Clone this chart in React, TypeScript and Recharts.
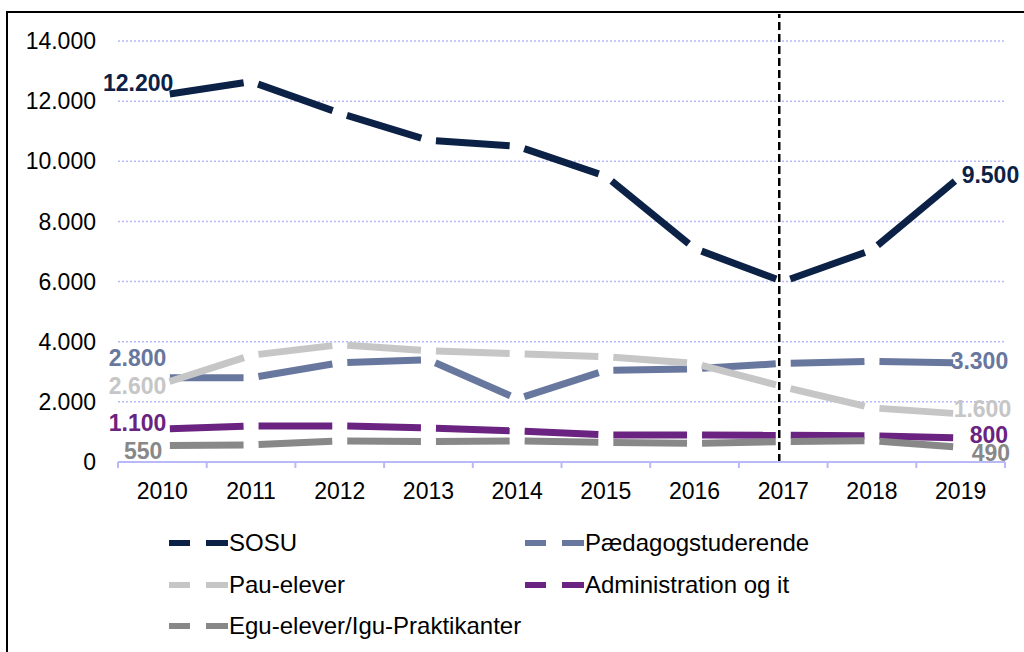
import React from 'react';
import { LineChart, Line, XAxis, YAxis, CartesianGrid, ReferenceLine, LabelList } from 'recharts';

const years = ['2010', '2011', '2012', '2013', '2014', '2015', '2016', '2017', '2018', '2019'];
const sosu = [12200, 12650, 11600, 10700, 10500, 9500, 7100, 6000, 7050, 9500];
const paedagog = [2800, 2800, 3300, 3400, 2100, 3050, 3100, 3280, 3350, 3300];
const pau = [2600, 3550, 3900, 3700, 3600, 3500, 3280, 2500, 1800, 1600];
const admin = [1100, 1200, 1200, 1130, 1030, 900, 900, 890, 870, 800];
const egu = [550, 570, 700, 680, 700, 650, 620, 680, 710, 490];
const yTicks = [0, 2000, 4000, 6000, 8000, 10000, 12000, 14000];

const data = years.map((year, i) => ({
  year,
  SOSU: sosu[i],
  Paed: paedagog[i],
  Pau: pau[i],
  Admin: admin[i],
  Egu: egu[i],
}));

const FONT = '"Liberation Sans", Arial, sans-serif';
const AX = '#b9b9f7';
const GAP = 7.5;

const series = [
  { key: 'SOSU', name: 'SOSU', color: '#0b2146', first: { dx: 11, dy: -12 }, last: { dx: 1, dy: -2 } },
  { key: 'Paed', name: 'Pædagogstuderende', color: '#68779e', first: { dx: 4, dy: -20 }, last: { dx: -10, dy: -2 } },
  { key: 'Pau', name: 'Pau-elever', color: '#c6c6c6', first: { dx: 4, dy: 2 }, last: { dx: -7, dy: -5 } },
  { key: 'Admin', name: 'Administration og it', color: '#6a2380', first: { dx: 4, dy: -6 }, last: { dx: 9, dy: -3 } },
  { key: 'Egu', name: 'Egu-elever/Igu-Praktikanter', color: '#888888', first: { dx: 0, dy: 5 }, last: { dx: 11, dy: 5 } },
];

const fmt = (v: number) => v.toLocaleString('de-DE');

const makeSegDot = (color: string) => (p: any) => {
  const { cx, cy, index, points } = p;
  if (!points || index === 0 || cx == null || cy == null) return <g key={`s-${color}-${index}`} />;
  const prev = points[index - 1];
  const dx = cx - prev.x;
  const dy = cy - prev.y;
  const len = Math.hypot(dx, dy) || 1;
  const ux = dx / len;
  const uy = dy / len;
  return (
    <line
      key={`s-${color}-${index}`}
      x1={prev.x + ux * GAP}
      y1={prev.y + uy * GAP}
      x2={cx - ux * GAP}
      y2={cy - uy * GAP}
      stroke={color}
      strokeWidth={7}
      strokeLinecap="butt"
    />
  );
};

const makeLabel = (s: any) => (p: any) => {
  const { x, y, index, value } = p;
  const n = years.length;
  if (index !== 0 && index !== n - 1) return null;
  const isFirst = index === 0;
  const o = isFirst ? s.first : s.last;
  return (
    <text
      x={x + o.dx}
      y={y + o.dy}
      dy="0.36em"
      textAnchor={isFirst ? 'end' : 'start'}
      fill={s.color}
      fontSize={23}
      fontWeight="bold"
      fontFamily={FONT}
    >
      {fmt(value)}
    </text>
  );
};

const XTick = (props: any) => {
  const { x, y, payload, index, visibleTicksCount } = props;
  const bw = 88.7;
  return (
    <g>
      <line x1={x - bw / 2} y1={y} x2={x - bw / 2} y2={y + 6} stroke={AX} strokeWidth={2} />
      {index === visibleTicksCount - 1 && (
        <line x1={x + bw / 2} y1={y} x2={x + bw / 2} y2={y + 6} stroke={AX} strokeWidth={2} />
      )}
      <text x={x} y={y + 37} textAnchor="middle" fontSize={23} fill="#000" fontFamily={FONT}>
        {payload.value}
      </text>
    </g>
  );
};

const ChartLegend = () => (
  <div style={{ position: 'absolute', left: 161, top: 510, width: 700, height: 130, fontFamily: FONT }}>
    {series.map((s, i) => {
      const row = Math.floor(i / 2);
      const col = i % 2;
      return (
        <div
          key={s.key}
          style={{
            position: 'absolute',
            left: col * 356,
            top: row * 41.5,
            height: 40,
            display: 'flex',
            alignItems: 'center',
            whiteSpace: 'nowrap',
          }}
        >
          <svg width={60} height={40} style={{ display: 'block' }}>
            <line x1={0} y1={20} x2={21} y2={20} stroke={s.color} strokeWidth={6} />
            <line x1={37} y1={20} x2={59} y2={20} stroke={s.color} strokeWidth={6} />
          </svg>
          <span style={{ fontSize: 24, color: '#000' }}>{s.name}</span>
        </div>
      );
    })}
  </div>
);

const RefShape = (p: any) => {
  const { x1, y1, x2, y2 } = p;
  return <line x1={x1 - 4} y1={y1} x2={x2 - 4} y2={y2} stroke="#000" strokeWidth={2.5} strokeDasharray="8 4" />;
};

export default function App() {
  return (
    <div
      style={{
        position: 'absolute',
        left: 6,
        top: 11,
        width: 1030,
        height: 660,
        border: '2px solid #000',
        background: '#fff',
        fontFamily: FONT,
      }}
    >
      <div style={{ position: 'absolute', left: 0, top: 0 }}>
        <LineChart
          width={1016}
          height={639}
          data={data}
          margin={{ top: 28, right: 19, left: 0, bottom: 130 }}
          style={{ fontFamily: FONT }}
        >
          <CartesianGrid vertical={false} stroke={AX} strokeDasharray="2 2" strokeWidth={1.5} />
          <XAxis
            dataKey="year"
            scale="band"
            height={60}
            axisLine={{ stroke: AX, strokeWidth: 2 }}
            tickLine={false}
            tickSize={0}
            tickMargin={0}
            interval={0}
            tick={<XTick />}
          />
          <YAxis
            width={110}
            domain={[0, 14000]}
            ticks={yTicks}
            axisLine={false}
            tickLine={false}
            tickSize={0}
            tickMargin={22}
            tickFormatter={fmt}
            tick={{ fontSize: 23, fill: '#000', fontFamily: FONT }}
            interval={0}
          />
          <ReferenceLine
            segment={[{ x: '2017', y: 0 }, { x: '2017', y: 14900 }]}
            ifOverflow="visible"
            shape={<RefShape />}
          />
          {series.map((s) => (
            <Line
              key={s.key}
              dataKey={s.key}
              name={s.name}
              stroke="none"
              strokeWidth={0}
              dot={makeSegDot(s.color)}
              activeDot={false}
              isAnimationActive={false}
              legendType="none"
            >
              <LabelList dataKey={s.key} content={makeLabel(s)} />
            </Line>
          ))}
        </LineChart>
      </div>
      <ChartLegend />
    </div>
  );
}
